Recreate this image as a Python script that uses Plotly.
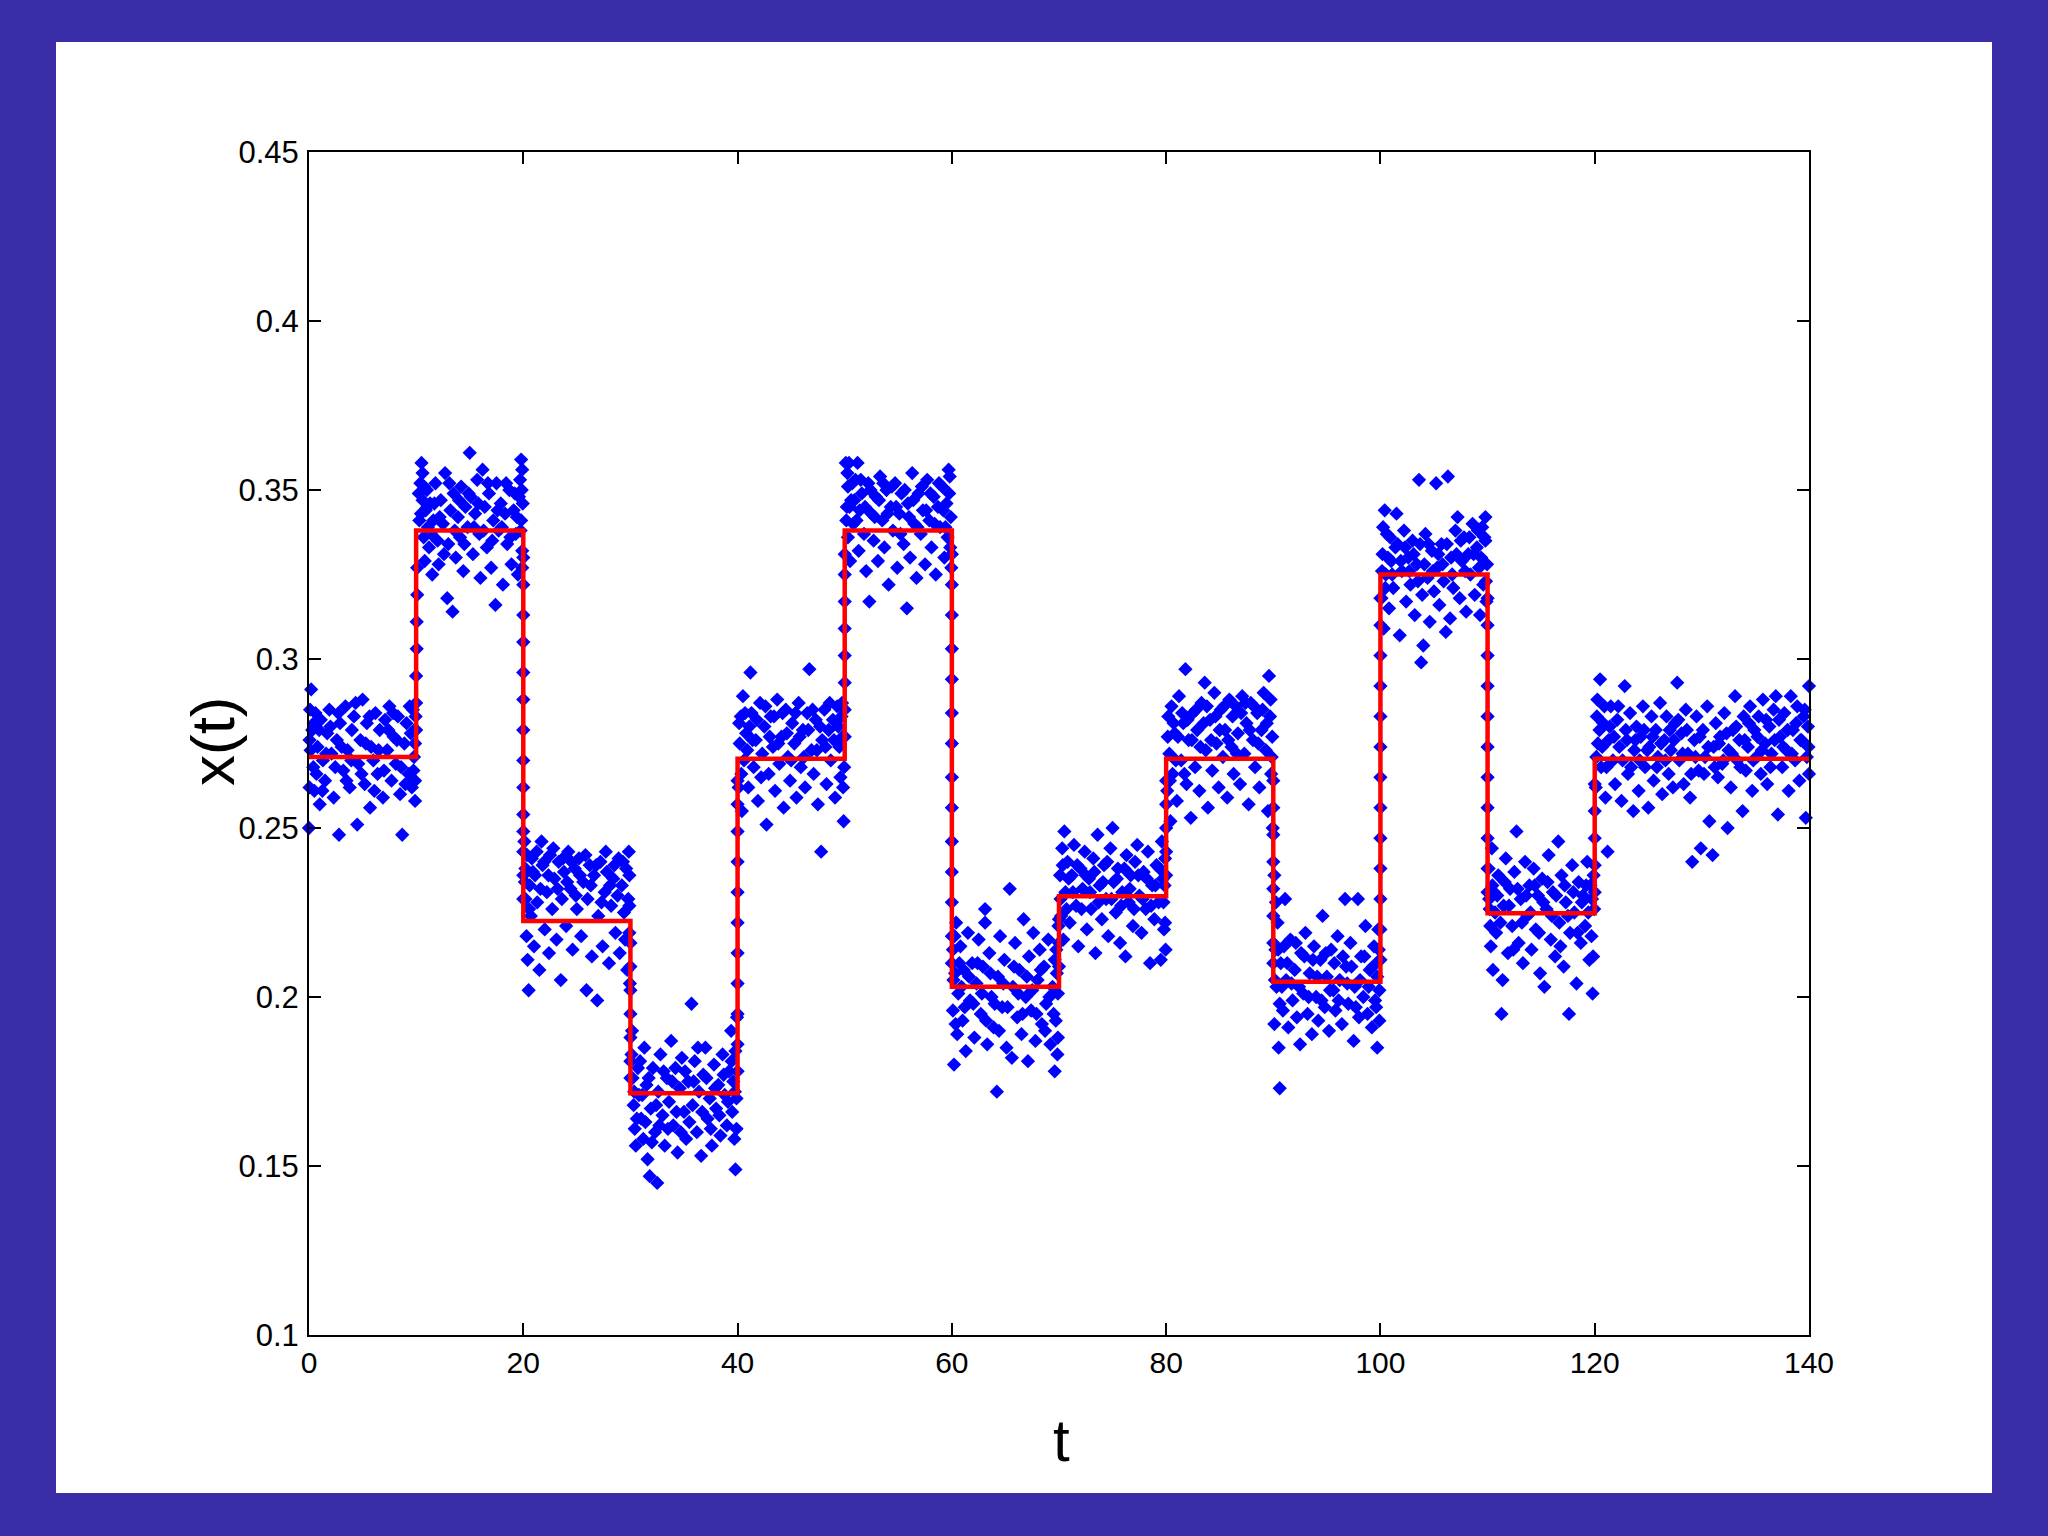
import plotly.graph_objects as go

# ---------------- data ----------------
# red step line: switching times and levels
line_t = [0, 10, 10, 20, 20, 30, 30, 40, 40, 50, 50, 60, 60, 70, 70, 80, 80, 90, 90, 100, 100, 110, 110, 120, 120, 140]
line_x = [0.271, 0.271, 0.338, 0.338, 0.2225, 0.2225, 0.1715, 0.1715, 0.2705, 0.2705, 0.338, 0.338,
          0.203, 0.203, 0.2298, 0.2298, 0.2705, 0.2705, 0.2045, 0.2045, 0.325, 0.325, 0.2248, 0.2248,
          0.2705, 0.2705]

# blue samples, lists of (t, x) per constant stretch
seg_0_10 = [(0.0,0.250),(0.05,0.262),(0.05,0.276),(0.1,0.285),(0.2,0.291),(0.3,0.279),(0.4,0.268),(0.5,0.261),(0.6,0.284),(0.8,0.274),
            (1.0,0.257),(1.1,0.282),(1.3,0.270),(1.5,0.264),(1.7,0.278),(1.9,0.285),(2.1,0.272),(2.3,0.259),(2.6,0.276),(2.8,0.248),
            (2.9,0.281),(3.2,0.267),(3.4,0.286),(3.6,0.273),(3.8,0.262),(4.0,0.279),(4.2,0.283),(4.5,0.251),(4.6,0.269),(4.8,0.276),
            (5.0,0.288),(5.2,0.263),(5.4,0.281),(5.7,0.256),(5.8,0.274),(6.0,0.270),(6.2,0.284),(6.4,0.266),(6.6,0.279),(6.9,0.259),
            (7.1,0.282),(7.3,0.273),(7.5,0.286),(7.7,0.264),(7.9,0.277),(8.1,0.269),(8.3,0.283),(8.5,0.260),(8.7,0.248),(8.9,0.275),
            (9.1,0.281),(9.3,0.266),(9.5,0.278),(9.6,0.262),(9.7,0.285),(9.8,0.271),(9.9,0.258),(9.9,0.275),(9.95,0.283)]
seg_0_10_b = [(0.15,0.273),(0.45,0.281),(0.7,0.266),(0.95,0.279),(1.25,0.261),(1.6,0.272),(2.0,0.280),(2.45,0.268),(2.75,0.284),(3.05,0.274),
              (3.5,0.264),(3.95,0.270),(4.35,0.287),(4.9,0.266),(5.3,0.275),(5.65,0.283),(6.1,0.261),(6.5,0.273),(7.0,0.267),(7.4,0.279),
              (7.85,0.284),(8.2,0.276),(8.6,0.268),(9.0,0.263),(9.4,0.286),(9.75,0.267),(9.85,0.279),(9.9,0.264)]
seg_10_20 = [(10.3,0.341),(10.4,0.352),(10.5,0.358),(10.6,0.355),(10.6,0.347),(10.7,0.336),(10.8,0.329),(10.9,0.344),(11.0,0.350),(11.1,0.339),
             (11.2,0.333),(11.3,0.346),(11.5,0.325),(11.6,0.341),(11.8,0.352),(12.0,0.335),(12.1,0.328),(12.3,0.347),(12.5,0.340),(12.7,0.355),
             (12.9,0.318),(13.0,0.334),(13.2,0.344),(13.4,0.314),(13.5,0.349),(13.7,0.330),(13.9,0.342),(14.1,0.336),(14.2,0.351),(14.4,0.326),
             (14.6,0.345),(14.8,0.339),(15.0,0.361),(15.1,0.348),(15.3,0.331),(15.5,0.343),(15.7,0.353),(15.9,0.337),(16.0,0.324),(16.2,0.356),
             (16.4,0.345),(16.6,0.333),(16.8,0.349),(17.0,0.327),(17.2,0.341),(17.4,0.316),(17.5,0.352),(17.7,0.338),(17.9,0.346),(18.1,0.322),
             (18.3,0.343),(18.5,0.334),(18.7,0.350),(18.9,0.328),(19.1,0.344),(19.3,0.337),(19.5,0.325),(19.6,0.348),(19.7,0.353),(19.8,0.359),
             (19.8,0.341),(19.9,0.356),(19.9,0.332),(19.95,0.346)]
seg_10_20_b = [(10.25,0.349),(10.45,0.343),(10.75,0.351),(11.05,0.345),(11.4,0.337),(11.7,0.346),(12.2,0.342),(12.6,0.331),(13.1,0.352),(13.6,0.338),
               (14.0,0.347),(14.5,0.334),(14.9,0.349),(15.4,0.339),(15.8,0.346),(16.3,0.338),(16.7,0.352),(17.1,0.335),(17.6,0.344),(18.0,0.339),
               (18.4,0.352),(18.8,0.336),(19.2,0.349),(19.4,0.342),(19.75,0.338),(19.85,0.350),(19.9,0.327)]
seg_20_30 = [(20.1,0.246),(20.2,0.238),(20.2,0.229),(20.3,0.218),(20.4,0.211),(20.5,0.202),(20.6,0.233),(20.7,0.224),(20.8,0.241),(21.0,0.215),
             (21.1,0.236),(21.3,0.228),(21.5,0.208),(21.7,0.246),(21.8,0.239),(22.0,0.220),(22.2,0.231),(22.4,0.213),(22.5,0.242),(22.7,0.226),
             (22.9,0.235),(23.1,0.217),(23.3,0.240),(23.5,0.205),(23.6,0.229),(23.8,0.237),(24.0,0.221),(24.2,0.243),(24.4,0.232),(24.6,0.214),
             (24.8,0.238),(25.0,0.226),(25.2,0.241),(25.4,0.218),(25.6,0.234),(25.9,0.202),(26.0,0.229),(26.2,0.239),(26.4,0.212),(26.6,0.236),
             (26.9,0.199),(27.0,0.224),(27.2,0.240),(27.4,0.215),(27.6,0.231),(27.8,0.237),(28.0,0.210),(28.2,0.227),(28.4,0.235),(28.6,0.219),
             (28.9,0.241),(29.0,0.213),(29.2,0.233),(29.4,0.225),(29.6,0.238),(29.7,0.208),(29.8,0.229),(29.9,0.219),(29.9,0.236),(29.95,0.204)]
seg_20_30_b = [(20.15,0.234),(20.35,0.242),(20.55,0.226),(20.9,0.237),(21.25,0.243),(21.6,0.232),(21.95,0.240),(22.35,0.236),(22.8,0.244),(23.2,0.232),
               (23.7,0.241),(24.1,0.234),(24.5,0.240),(24.9,0.230),(25.3,0.236),(25.8,0.242),(26.3,0.233),(26.8,0.239),(27.3,0.228),(27.7,0.243),
               (28.1,0.233),(28.5,0.239),(28.8,0.230),(29.3,0.240),(29.5,0.217),(29.85,0.243),(29.9,0.227)]
seg_30_40 = [(30.1,0.183),(30.2,0.176),(30.3,0.168),(30.4,0.161),(30.5,0.156),(30.7,0.179),(30.8,0.171),(31.0,0.164),(31.2,0.158),(31.3,0.185),
             (31.5,0.174),(31.6,0.152),(31.8,0.147),(31.9,0.167),(32.1,0.179),(32.3,0.160),(32.5,0.145),(32.6,0.172),(32.8,0.183),(33.0,0.165),
             (33.2,0.156),(33.4,0.176),(33.6,0.169),(33.8,0.187),(34.0,0.162),(34.2,0.179),(34.4,0.154),(34.6,0.173),(34.8,0.182),(35.0,0.166),
             (35.2,0.158),(35.4,0.175),(35.7,0.198),(35.8,0.168),(36.0,0.181),(36.2,0.160),(36.4,0.172),(36.6,0.153),(36.8,0.177),(37.0,0.185),
             (37.2,0.164),(37.4,0.170),(37.6,0.156),(37.8,0.180),(38.0,0.167),(38.2,0.174),(38.4,0.159),(38.6,0.183),(38.8,0.171),(39.0,0.162),
             (39.2,0.178),(39.4,0.190),(39.5,0.166),(39.6,0.175),(39.7,0.158),(39.8,0.149),(39.8,0.184),(39.9,0.170),(39.95,0.194)]
seg_30_40_b = [(30.15,0.190),(30.35,0.172),(30.6,0.164),(30.9,0.181),(31.1,0.171),(31.4,0.163),(31.7,0.176),(32.0,0.157),(32.4,0.168),(32.7,0.162),
               (33.1,0.178),(33.5,0.161),(33.9,0.175),(34.3,0.166),(34.7,0.160),(35.1,0.178),(35.5,0.163),(35.9,0.175),(36.3,0.185),(36.7,0.166),
               (37.1,0.176),(37.5,0.161),(37.9,0.173),(38.3,0.165),(38.7,0.177),(39.1,0.169),(39.45,0.181),(39.75,0.172),(39.9,0.161)]
seg_40_50 = [(40.1,0.262),(40.2,0.275),(40.3,0.283),(40.4,0.255),(40.5,0.289),(40.6,0.270),(40.8,0.278),(41.0,0.262),(41.2,0.296),(41.3,0.284),
             (41.5,0.268),(41.7,0.276),(41.9,0.258),(42.1,0.287),(42.3,0.272),(42.5,0.280),(42.7,0.251),(42.9,0.266),(43.1,0.283),(43.3,0.274),
             (43.5,0.261),(43.7,0.288),(43.9,0.269),(44.1,0.277),(44.3,0.256),(44.5,0.285),(44.7,0.271),(44.9,0.264),(45.1,0.281),(45.3,0.275),
             (45.5,0.259),(45.7,0.287),(45.9,0.268),(46.1,0.279),(46.3,0.262),(46.5,0.284),(46.7,0.297),(46.9,0.273),(47.1,0.266),(47.3,0.282),
             (47.5,0.257),(47.8,0.243),(47.9,0.276),(48.1,0.285),(48.3,0.263),(48.5,0.279),(48.7,0.270),(48.9,0.282),(49.1,0.259),(49.3,0.286),
             (49.5,0.274),(49.6,0.265),(49.7,0.283),(49.8,0.277),(49.9,0.252),(49.95,0.268)]
seg_40_50_b = [(40.15,0.281),(40.35,0.266),(40.7,0.284),(40.9,0.273),(41.1,0.280),(41.4,0.276),(41.8,0.282),(42.2,0.265),(42.6,0.286),(43.0,0.277),
               (43.4,0.283),(43.8,0.275),(44.2,0.284),(44.6,0.278),(45.0,0.270),(45.4,0.284),(45.8,0.277),(46.2,0.271),(46.6,0.279),(47.0,0.285),
               (47.4,0.273),(47.7,0.280),(48.2,0.274),(48.6,0.287),(49.0,0.276),(49.4,0.280),(49.75,0.287),(49.85,0.262)]
seg_50_60 = [(50.1,0.358),(50.2,0.345),(50.3,0.351),(50.3,0.336),(50.4,0.358),(50.5,0.329),(50.6,0.347),(50.8,0.340),(51.0,0.353),(51.2,0.358),
             (51.3,0.332),(51.4,0.344),(51.6,0.349),(51.8,0.337),(52.0,0.326),(52.2,0.352),(52.3,0.317),(52.5,0.343),(52.7,0.335),(52.9,0.348),
             (53.1,0.329),(53.3,0.354),(53.5,0.341),(53.7,0.333),(53.9,0.350),(54.1,0.322),(54.3,0.345),(54.5,0.338),(54.7,0.352),(54.9,0.327),
             (55.1,0.343),(55.3,0.349),(55.5,0.334),(55.8,0.315),(55.9,0.346),(56.1,0.330),(56.3,0.355),(56.5,0.340),(56.7,0.324),(56.9,0.349),
             (57.1,0.337),(57.3,0.344),(57.5,0.328),(57.7,0.353),(57.9,0.341),(58.1,0.333),(58.3,0.348),(58.5,0.325),(58.7,0.345),(58.9,0.339),
             (59.1,0.351),(59.3,0.330),(59.5,0.346),(59.6,0.336),(59.7,0.356),(59.8,0.354),(59.9,0.342),(59.95,0.327)]
seg_50_60_b = [(50.15,0.341),(50.25,0.355),(50.45,0.345),(50.7,0.352),(50.9,0.347),(51.1,0.341),(51.5,0.353),(51.9,0.345),(52.4,0.350),(52.8,0.342),
               (53.2,0.347),(53.6,0.352),(54.0,0.343),(54.4,0.351),(54.8,0.345),(55.2,0.337),(55.6,0.350),(56.0,0.342),(56.4,0.347),(56.8,0.339),
               (57.2,0.351),(57.6,0.344),(58.0,0.349),(58.4,0.340),(58.8,0.352),(59.2,0.344),(59.4,0.339),(59.75,0.349),(59.85,0.333)]
seg_60_70 = [(60.1,0.214),(60.1,0.196),(60.2,0.180),(60.3,0.207),(60.4,0.222),(60.5,0.189),(60.6,0.201),(60.8,0.215),(61.0,0.193),(61.1,0.208),
             (61.3,0.184),(61.5,0.219),(61.7,0.199),(61.9,0.210),(62.1,0.188),(62.3,0.204),(62.5,0.217),(62.7,0.195),(62.9,0.209),(63.1,0.226),
             (63.1,0.222),(63.3,0.186),(63.5,0.213),(63.7,0.200),(63.9,0.191),(64.2,0.172),(64.3,0.206),(64.5,0.218),(64.7,0.197),(64.9,0.211),
             (65.1,0.185),(65.4,0.232),(65.6,0.182),(65.7,0.203),(65.9,0.216),(66.1,0.194),(66.3,0.208),(66.5,0.189),(66.7,0.223),(66.9,0.200),
             (67.1,0.181),(67.2,0.212),(67.4,0.196),(67.6,0.219),(67.8,0.187),(68.0,0.205),(68.2,0.214),(68.4,0.192),(68.6,0.209),(68.8,0.198),
             (69.0,0.217),(69.2,0.186),(69.4,0.203),(69.6,0.178),(69.6,0.211),(69.7,0.193),(69.8,0.207),(69.9,0.188),(69.95,0.221)]
seg_60_70_b = [(60.15,0.205),(60.25,0.218),(60.35,0.192),(60.7,0.210),(60.9,0.203),(61.2,0.197),(61.6,0.206),(62.0,0.198),(62.4,0.210),(62.8,0.201),
               (63.2,0.193),(63.6,0.207),(64.0,0.198),(64.4,0.190),(64.8,0.204),(65.2,0.197),(65.8,0.209),(66.2,0.201),(66.6,0.195),(67.0,0.206),
               (67.5,0.202),(67.9,0.195),(68.3,0.208),(68.7,0.190),(69.1,0.200),(69.5,0.195),(69.75,0.214),(69.85,0.183),(69.9,0.201)]
seg_70_80 = [(70.1,0.236),(70.2,0.224),(70.3,0.244),(70.4,0.217),(70.5,0.249),(70.6,0.231),(70.8,0.240),(71.0,0.222),(71.2,0.236),(71.4,0.245),
             (71.6,0.227),(71.8,0.215),(72.0,0.238),(72.2,0.232),(72.4,0.243),(72.6,0.220),(72.8,0.235),(73.0,0.226),(73.2,0.241),(73.4,0.213),
             (73.6,0.248),(73.8,0.233),(74.0,0.223),(74.2,0.239),(74.4,0.229),(74.6,0.218),(74.8,0.244),(75.0,0.250),(75.1,0.234),(75.3,0.225),
             (75.5,0.238),(75.7,0.216),(75.9,0.231),(76.2,0.212),(76.3,0.242),(76.5,0.228),(76.7,0.236),(76.9,0.221),(77.1,0.240),(77.3,0.245),
             (77.5,0.230),(77.7,0.219),(77.9,0.237),(78.1,0.226),(78.3,0.243),(78.5,0.210),(78.7,0.233),(78.9,0.223),(79.1,0.239),(79.3,0.228),
             (79.5,0.211),(79.6,0.246),(79.7,0.235),(79.8,0.220),(79.9,0.241),(79.95,0.214)]
seg_70_80_b = [(70.15,0.229),(70.35,0.239),(70.7,0.226),(70.9,0.235),(71.3,0.231),(71.7,0.239),(72.1,0.226),(72.5,0.236),(72.9,0.231),(73.3,0.237),
               (73.7,0.228),(74.1,0.234),(74.5,0.240),(74.9,0.229),(75.4,0.235),(75.8,0.227),(76.1,0.238),(76.6,0.232),(77.0,0.226),(77.4,0.236),
               (77.8,0.229),(78.2,0.235),(78.6,0.227),(79.0,0.233),(79.4,0.238),(79.75,0.228),(79.85,0.233),(79.9,0.222)]
seg_80_90 = [(80.1,0.261),(80.2,0.283),(80.3,0.272),(80.4,0.252),(80.5,0.286),(80.6,0.266),(80.8,0.278),(81.0,0.258),(81.2,0.289),(81.4,0.270),
             (81.6,0.281),(81.8,0.297),(81.9,0.263),(82.1,0.276),(82.3,0.253),(82.5,0.284),(82.7,0.268),(82.9,0.279),(83.1,0.261),(83.3,0.287),
             (83.6,0.293),(83.7,0.273),(83.9,0.256),(84.1,0.282),(84.3,0.267),(84.5,0.290),(84.7,0.275),(84.9,0.262),(85.1,0.285),(85.3,0.271),
             (85.5,0.279),(85.7,0.259),(85.9,0.288),(86.1,0.274),(86.3,0.266),(86.5,0.286),(86.7,0.278),(86.9,0.263),(87.1,0.289),(87.3,0.272),
             (87.5,0.281),(87.7,0.257),(87.9,0.287),(88.1,0.276),(88.3,0.268),(88.5,0.284),(88.7,0.262),(88.9,0.279),(89.1,0.290),(89.3,0.273),
             (89.5,0.255),(89.6,0.295),(89.7,0.283),(89.8,0.266),(89.9,0.277),(89.95,0.250)]
seg_80_90_b = [(80.15,0.277),(80.35,0.264),(80.7,0.281),(80.9,0.270),(81.1,0.277),(81.5,0.284),(81.7,0.266),(82.0,0.282),(82.4,0.276),(82.8,0.285),
               (83.2,0.274),(83.5,0.281),(83.8,0.286),(84.2,0.276),(84.6,0.283),(85.0,0.279),(85.4,0.286),(85.8,0.276),(86.2,0.283),(86.6,0.272),
               (87.0,0.284),(87.4,0.287),(87.8,0.279),(88.2,0.286),(88.6,0.275),(89.0,0.285),(89.4,0.281),(89.75,0.288),(89.85,0.271)]
seg_90_100 = [(90.1,0.236),(90.1,0.192),(90.2,0.214),(90.3,0.203),(90.4,0.222),(90.5,0.185),(90.6,0.173),(90.6,0.198),(90.7,0.210),(90.9,0.196),
              (91.1,0.229),(91.2,0.205),(91.4,0.191),(91.6,0.217),(91.8,0.199),(92.0,0.208),(92.2,0.194),(92.5,0.186),(92.6,0.213),(92.8,0.201),
              (93.0,0.219),(93.2,0.195),(93.4,0.207),(93.6,0.189),(93.8,0.215),(94.0,0.200),(94.2,0.193),(94.4,0.211),(94.6,0.224),(94.8,0.197),
              (95.0,0.206),(95.2,0.190),(95.4,0.214),(95.6,0.202),(95.8,0.196),(96.0,0.218),(96.2,0.205),(96.4,0.192),(96.7,0.229),(96.8,0.209),
              (97.0,0.198),(97.2,0.216),(97.5,0.187),(97.6,0.203),(97.9,0.229),(98.0,0.194),(98.2,0.212),(98.4,0.200),(98.6,0.221),(98.8,0.195),
              (99.0,0.208),(99.2,0.191),(99.4,0.215),(99.5,0.199),(99.7,0.185),(99.7,0.206),(99.8,0.220),(99.9,0.193),(99.95,0.211)]
seg_90_100_b = [(90.15,0.205),(90.25,0.228),(90.45,0.214),(90.8,0.203),(91.0,0.215),(91.3,0.210),(91.7,0.204),(92.1,0.216),(92.4,0.203),(92.9,0.212),
                (93.3,0.200),(93.7,0.211),(94.1,0.206),(94.5,0.199),(94.9,0.213),(95.3,0.202),(95.7,0.210),(96.1,0.199),(96.5,0.212),(96.9,0.204),
                (97.3,0.209),(97.7,0.197),(98.1,0.205),(98.5,0.212),(98.9,0.203),(99.3,0.209),(99.6,0.197),(99.85,0.214),(99.9,0.202)]
seg_100_110 = [(100.1,0.318),(100.2,0.331),(100.3,0.309),(100.4,0.344),(100.5,0.325),(100.6,0.337),(100.8,0.315),(101.0,0.329),(101.2,0.321),(101.5,0.343),
               (101.6,0.334),(101.8,0.307),(102.0,0.326),(102.2,0.338),(102.4,0.317),(102.6,0.330),(102.8,0.322),(103.0,0.335),(103.2,0.313),(103.4,0.328),
               (103.6,0.353),(103.8,0.299),(103.9,0.319),(104.0,0.304),(104.2,0.337),(104.4,0.324),(104.6,0.311),(104.8,0.332),(105.0,0.320),(105.2,0.352),
               (105.3,0.327),(105.5,0.316),(105.7,0.334),(105.9,0.323),(106.1,0.308),(106.3,0.354),(106.5,0.312),(106.6,0.330),(106.8,0.321),(107.0,0.338),
               (107.2,0.342),(107.4,0.318),(107.6,0.329),(107.8,0.336),(108.0,0.314),(108.2,0.331),(108.4,0.325),(108.6,0.340),(108.8,0.319),(109.0,0.333),
               (109.2,0.327),(109.3,0.313),(109.5,0.339),(109.6,0.322),(109.8,0.342),(109.8,0.335),(109.9,0.317),(109.95,0.328)]
seg_100_110_b = [(100.15,0.326),(100.25,0.339),(100.45,0.321),(100.7,0.330),(100.9,0.336),(101.1,0.325),(101.4,0.333),(101.9,0.329),(102.3,0.333),(102.7,0.326),
                 (103.1,0.331),(103.5,0.323),(103.7,0.334),(104.1,0.328),(104.5,0.334),(104.9,0.326),(105.4,0.331),(105.8,0.328),(106.2,0.334),(106.7,0.325),
                 (107.1,0.331),(107.5,0.335),(107.9,0.326),(108.3,0.336),(108.7,0.331),(109.1,0.338),(109.4,0.330),(109.7,0.336),(109.85,0.323)]
seg_110_120 = [(110.1,0.238),(110.2,0.226),(110.3,0.215),(110.4,0.244),(110.5,0.208),(110.6,0.231),(110.8,0.219),(111.0,0.236),(111.3,0.195),(111.4,0.205),
               (111.5,0.227),(111.7,0.241),(111.9,0.213),(112.1,0.232),(112.3,0.221),(112.5,0.237),(112.7,0.249),(112.9,0.216),(113.1,0.229),(113.3,0.210),
               (113.5,0.240),(113.7,0.224),(113.9,0.233),(114.1,0.214),(114.3,0.238),(114.5,0.220),(114.7,0.230),(114.9,0.207),(115.1,0.235),(115.3,0.203),
               (115.5,0.226),(115.7,0.242),(115.9,0.217),(116.1,0.231),(116.3,0.212),(116.6,0.246),(116.7,0.222),(116.9,0.236),(117.1,0.209),(117.3,0.228),
               (117.6,0.195),(117.7,0.219),(117.9,0.239),(118.1,0.225),(118.3,0.204),(118.5,0.234),(118.7,0.216),(118.9,0.230),(119.1,0.221),(119.3,0.240),
               (119.5,0.211),(119.6,0.233),(119.7,0.218),(119.8,0.201),(119.9,0.236),(119.95,0.226)]
seg_110_120_b = [(110.15,0.229),(110.25,0.221),(110.45,0.233),(110.7,0.225),(110.9,0.230),(111.2,0.222),(111.6,0.234),(112.0,0.227),(112.4,0.214),(112.8,0.232),
                 (113.2,0.222),(113.6,0.230),(114.0,0.225),(114.4,0.233),(114.8,0.219),(115.2,0.228),(115.6,0.234),(116.0,0.224),(116.4,0.230),(116.8,0.215),
                 (117.2,0.233),(117.5,0.224),(118.0,0.231),(118.4,0.219),(118.8,0.228),(119.2,0.233),(119.4,0.225),(119.75,0.229),(119.85,0.212)]
seg_120_140 = [(120.1,0.262),(120.2,0.283),(120.3,0.275),(120.5,0.294),(120.6,0.268),(120.8,0.281),(121.0,0.259),(121.2,0.243),(121.3,0.276),(121.5,0.286),
               (121.7,0.270),(121.9,0.263),(122.1,0.282),(122.3,0.274),(122.5,0.258),(122.8,0.292),(122.9,0.279),(123.1,0.266),(123.3,0.284),(123.6,0.255),
               (123.7,0.273),(123.9,0.280),(124.1,0.261),(124.3,0.277),(124.5,0.286),(124.7,0.268),(125.0,0.256),(125.1,0.274),(125.3,0.283),(125.5,0.264),
               (125.7,0.279),(125.9,0.271),(126.1,0.287),(126.3,0.260),(126.5,0.276),(126.7,0.283),(126.9,0.266),(127.1,0.273),(127.3,0.262),(127.5,0.281),
               (127.7,0.293),(127.9,0.270),(128.1,0.278),(128.3,0.263),(128.5,0.285),(128.7,0.272),(128.9,0.259),(129.1,0.240),(129.3,0.276),(129.5,0.283),
               (129.7,0.267),(129.9,0.244),(130.1,0.279),(130.3,0.271),(130.5,0.286),(130.7,0.252),(131.0,0.242),(131.1,0.274),(131.3,0.281),(131.5,0.265),
               (131.7,0.277),(131.9,0.269),(132.1,0.284),(132.4,0.250),(132.5,0.273),(132.7,0.262),(132.9,0.279),(133.1,0.289),(133.3,0.270),(133.5,0.276),
               (133.8,0.255),(133.9,0.283),(134.1,0.267),(134.3,0.274),(134.5,0.286),(134.7,0.261),(134.9,0.279),(135.1,0.271),(135.3,0.283),(135.5,0.266),
               (135.7,0.288),(135.9,0.275),(136.1,0.263),(136.3,0.280),(136.5,0.272),(136.7,0.285),(136.9,0.289),(137.1,0.254),(137.3,0.277),(137.5,0.268),
               (137.7,0.284),(137.9,0.273),(138.1,0.261),(138.3,0.289),(138.5,0.279),(138.7,0.270),(138.9,0.286),(139.1,0.264),(139.3,0.276),(139.5,0.283),
               (139.7,0.253),(139.8,0.271),(139.9,0.280),(140.0,0.292),(140.0,0.266)]
seg_120_140_b = [(120.15,0.271),(120.25,0.288),(120.45,0.279),(120.7,0.274),(120.9,0.286),(121.1,0.268),(121.4,0.280),(121.8,0.277),(122.2,0.286),(122.6,0.270),
                 (123.0,0.276),(123.4,0.268),(123.8,0.276),(124.2,0.270),(124.6,0.279),(124.9,0.273),(125.4,0.277),(125.8,0.268),(126.2,0.275),(126.6,0.270),
                 (127.0,0.279),(127.4,0.276),(127.8,0.282),(128.2,0.272),(128.6,0.279),(129.0,0.266),(129.4,0.271),(129.8,0.277),(130.2,0.266),(130.6,0.274),
                 (131.2,0.268),(131.6,0.275),(132.0,0.270),(132.3,0.278),(132.8,0.272),(133.2,0.280),(133.6,0.268),(134.0,0.276),(134.4,0.281),(134.8,0.270),
                 (135.2,0.277),(135.6,0.273),(136.0,0.282),(136.4,0.268),(136.8,0.276),(137.2,0.282),(137.6,0.274),(138.0,0.279),(138.4,0.272),(138.8,0.281),
                 (139.2,0.276),(139.6,0.285),(139.95,0.274)]
# samples caught during the fast switches (mostly hidden behind the red line)
switch_points = [(10.0,0.279),(10.0,0.287),(10.0,0.295),(10.05,0.303),(10.05,0.311),(10.1,0.319),(10.1,0.327),
                 (20.0,0.330),(20.0,0.322),(20.0,0.313),(20.0,0.305),(20.0,0.296),(20.0,0.288),(20.0,0.279),(20.0,0.270),
                 (20.0,0.262),(20.0,0.254),(20.0,0.249),(20.0,0.243),(20.0,0.236),(20.0,0.229),
                 (30.0,0.216),(30.0,0.209),(30.0,0.202),(30.0,0.195),(30.0,0.188),(30.0,0.181),(30.0,0.176),
                 (40.0,0.178),(40.0,0.186),(40.0,0.195),(40.0,0.204),(40.0,0.213),(40.0,0.222),(40.0,0.231),(40.0,0.240),
                 (40.0,0.249),(40.0,0.257),(40.0,0.264),
                 (50.0,0.277),(50.0,0.285),(50.0,0.293),(50.0,0.301),(50.0,0.309),(50.0,0.317),(50.0,0.325),(50.0,0.331),
                 (60.0,0.331),(60.0,0.322),(60.0,0.313),(60.0,0.303),(60.0,0.294),(60.0,0.284),(60.0,0.275),(60.0,0.265),
                 (60.0,0.256),(60.0,0.246),(60.0,0.237),(60.0,0.228),(60.0,0.218),(60.0,0.210),
                 (70.0,0.209),(70.0,0.216),(70.0,0.223),
                 (80.0,0.236),(80.0,0.243),(80.0,0.250),(80.0,0.257),(80.0,0.264),
                 (90.0,0.264),(90.0,0.256),(90.0,0.248),(90.0,0.240),(90.0,0.232),(90.0,0.224),(90.0,0.216),(90.0,0.210),
                 (100.0,0.211),(100.0,0.220),(100.0,0.229),(100.0,0.238),(100.0,0.247),(100.0,0.256),(100.0,0.265),
                 (100.0,0.274),(100.0,0.283),(100.0,0.292),(100.0,0.301),(100.0,0.310),(100.0,0.318),
                 (110.0,0.318),(110.0,0.310),(110.0,0.301),(110.0,0.292),(110.0,0.283),(110.0,0.274),(110.0,0.265),
                 (110.0,0.256),(110.0,0.247),(110.0,0.238),(110.0,0.231),
                 (120.0,0.231),(120.0,0.239),(120.0,0.247),(120.0,0.255),(120.0,0.263)]

x_ticks = [0, 20, 40, 60, 80, 100, 120, 140]
x_ticktext = ["0", "20", "40", "60", "80", "100", "120", "140"]
y_ticks = [0.1, 0.15, 0.2, 0.25, 0.3, 0.35, 0.4, 0.45]
y_ticktext = ["0.1", "0.15", "0.2", "0.25", "0.3", "0.35", "0.4", "0.45"]

# ---------------- figure ----------------
all_pts = (seg_0_10 + seg_0_10_b + seg_10_20 + seg_10_20_b + seg_20_30 + seg_20_30_b +
           seg_30_40 + seg_30_40_b + seg_40_50 + seg_40_50_b + seg_50_60 + seg_50_60_b +
           seg_60_70 + seg_60_70_b + seg_70_80 + seg_70_80_b + seg_80_90 + seg_80_90_b +
           seg_90_100 + seg_90_100_b + seg_100_110 + seg_100_110_b + seg_110_120 + seg_110_120_b +
           seg_120_140 + seg_120_140_b + switch_points)
pts_t = [p[0] for p in all_pts]
pts_x = [p[1] for p in all_pts]

W, H = 2048, 1536
L, R, T, B = 309, 1809, 152, 1335          # plot-area pixel box
FONT = "Liberation Sans, Arial, Helvetica, sans-serif"

def px_x(X):
    return (X - L) / (R - L)

def px_y(Y):
    return (B - Y) / (B - T)

fig = go.Figure()
fig.add_trace(go.Scatter(x=pts_t, y=pts_x, mode="markers",
                         marker=dict(symbol="diamond", size=11, color="#0000ff", line=dict(width=0)),
                         cliponaxis=False, showlegend=False, hoverinfo="skip"))
fig.add_trace(go.Scatter(x=line_t, y=line_x, mode="lines",
                         line=dict(color="#ff0000", width=4.5), showlegend=False, hoverinfo="skip"))

axis_common = dict(showline=True, linecolor="black", linewidth=2, mirror="ticks",
                   ticks="inside", ticklen=12, tickwidth=2, tickcolor="black",
                   showgrid=False, zeroline=False)
fig.update_xaxes(range=[0, 140], tickvals=x_ticks, ticktext=x_ticktext, ticklabelstandoff=0,
                 tickfont=dict(family=FONT, size=30, color="black"), **axis_common)
fig.update_yaxes(range=[0.1, 0.45], tickvals=y_ticks, ticktext=y_ticktext, ticklabelstandoff=2,
                 tickfont=dict(family=FONT, size=31, color="black"), **axis_common)

fig.add_shape(type="rect", xref="paper", yref="paper", layer="below",
              x0=px_x(56), x1=px_x(1992), y0=px_y(1493), y1=px_y(42),
              fillcolor="white", line=dict(width=0))

fig.add_annotation(text="x(t)", xref="paper", yref="paper", x=px_x(212), y=px_y(741),
                   xanchor="center", yanchor="middle",
                   showarrow=False, textangle=-90, font=dict(family=FONT, size=62, color="black"))
fig.add_annotation(text="t", xref="paper", yref="paper", x=px_x(1061), y=px_y(1440),
                   xanchor="center", yanchor="middle",
                   showarrow=False, font=dict(family=FONT, size=60, color="black"))

fig.update_layout(width=W, height=H, autosize=False,
                  margin=dict(l=L, r=W - R, t=T, b=H - B, pad=0),
                  paper_bgcolor="#392ea7", plot_bgcolor="white",
                  showlegend=False)

fig.write_html("out.html", config={"displayModeBar": False},
               post_script="document.body.style.margin='0';document.body.style.overflow='hidden';")
